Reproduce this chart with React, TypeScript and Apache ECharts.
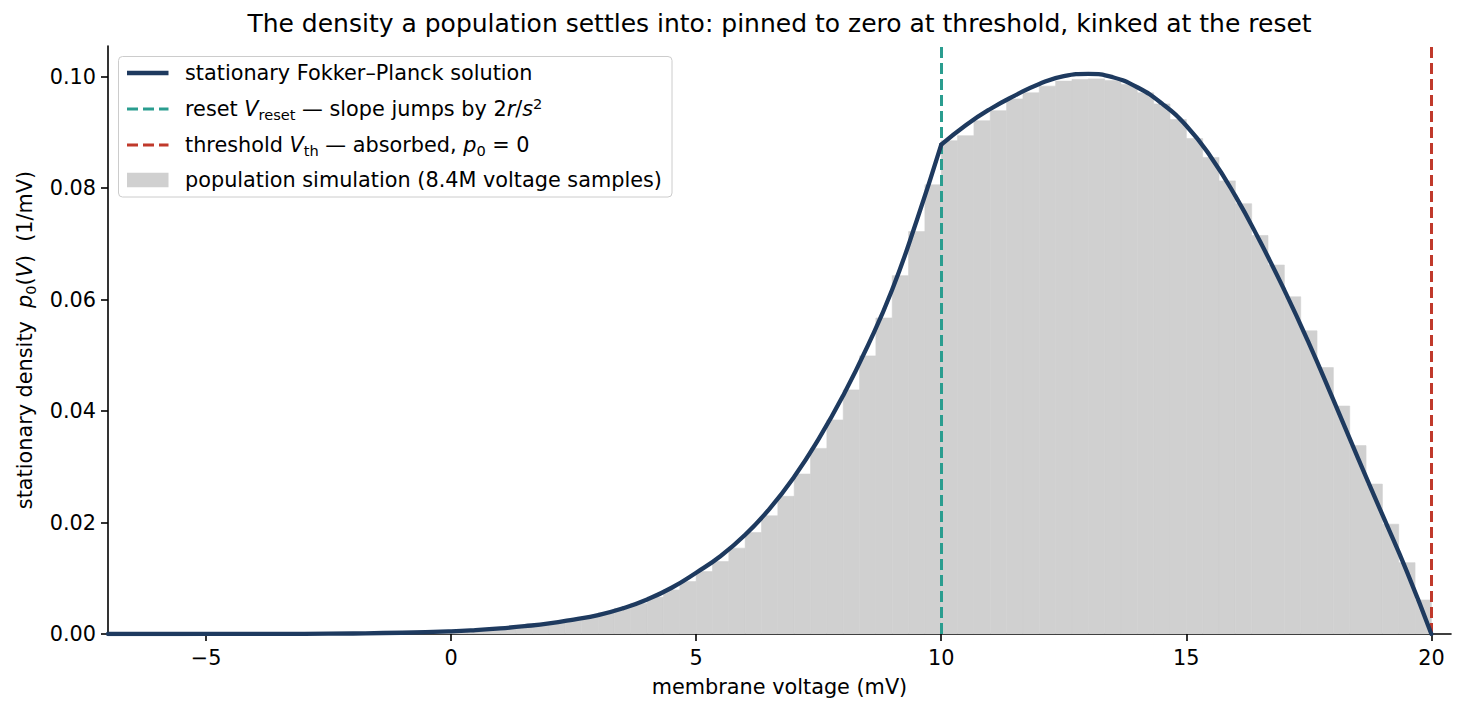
import React, { useEffect, useRef } from "react";
import * as echarts from "echarts";

// ---------- data ----------
const TITLE =
  "The density a population settles into: pinned to zero at threshold, kinked at the reset";
const X_LABEL = "membrane voltage (mV)";
const X_TICKS = [-5, 0, 5, 10, 15, 20];
const Y_TICKS = [0, 0.02, 0.04, 0.06, 0.08, 0.1];
const X_MIN = -7;
const X_MAX = 20.4;
const Y_MAX = 0.1055;
const V_RESET = 10;
const V_TH = 20;

const CURVE_NAME = "stationary Fokker–Planck solution";
const HIST_NAME = "population simulation (8.4M voltage samples)";

// analytic curve, below the reset
const CURVE_LOW_V = [-7, -6, -5, -4, -3, -2, -1, 0, 0.5, 1, 1.5, 2, 2.5, 3, 3.5, 4, 4.5, 5, 5.5, 6, 6.5, 7, 7.5, 8, 8.5, 9, 9.5, 10];
const CURVE_LOW_P = [
  0.000001, 0.000002, 0.000005, 0.000013, 0.000035, 0.00009, 0.00022, 0.00048, 0.0007, 0.001, 0.0014,
  0.0019, 0.0026, 0.0034, 0.0046, 0.0062, 0.0083, 0.011, 0.014, 0.0178, 0.0225, 0.0282, 0.035, 0.0428,
  0.0517, 0.0618, 0.0742, 0.0878,
];
// analytic curve, above the reset
const CURVE_HIGH_V = [10, 10.5, 11, 11.5, 12, 12.5, 13, 13.5, 14, 14.5, 15, 15.5, 16, 16.5, 17, 17.5, 18, 18.5, 19, 19.5, 20];
const CURVE_HIGH_P = [
  0.0878, 0.0913, 0.0942, 0.0966, 0.0987, 0.1001, 0.1005, 0.0999, 0.0981, 0.0952, 0.0912, 0.0856,
  0.0786, 0.0705, 0.0617, 0.0522, 0.042, 0.0316, 0.0214, 0.0112, 0,
];

// histogram: bins of 1/3 mV starting at -7 mV
const HIST_START = -7;
const HIST_BIN_WIDTH = 1 / 3;
const HIST_DENSITY = [
  0, 0, 0.000001, 0.000001, 0.000002, 0.000003, 0.000004, 0.000006, 0.000008, 0.000012,
  0.000017, 0.000024, 0.000034, 0.000047, 0.000065, 0.00009, 0.00012, 0.00016, 0.00021, 0.00028,
  0.00037, 0.00048, 0.00062, 0.0008, 0.001, 0.00128, 0.0016, 0.002, 0.0025, 0.0031,
  0.0038, 0.0046, 0.0055, 0.0066, 0.0079, 0.0094, 0.0112, 0.013, 0.0154, 0.0182,
  0.0212, 0.0247, 0.0287, 0.0333, 0.0384, 0.0438, 0.0499, 0.0567, 0.0643, 0.0722,
  0.0806, 0.0885, 0.0894, 0.0921, 0.0939, 0.096, 0.0971, 0.0983, 0.0992, 0.0995,
  0.0996, 0.0993, 0.0986, 0.0971, 0.0951, 0.0923, 0.0889, 0.0855, 0.0813, 0.0772,
  0.0715, 0.0662, 0.0605, 0.0544, 0.0478, 0.0409, 0.0338, 0.0269, 0.0197, 0.0128,
  0.0061,
];

// ---------- styles ----------
const FONT = "DejaVu Sans";
const FS = 20.8;
const NAVY = "#1e3a5f";
const TEAL = "#2a9d8f";
const RED = "#c0392b";
const GRAY = "#d0d0d0";

const fmtX = (v: number) => (v < 0 ? "\u2212" + Math.abs(v) : String(v));

function buildOption() {
  const histData = HIST_DENSITY.map((d, k) => {
    const x0 = HIST_START + k * HIST_BIN_WIDTH;
    return [x0, x0 + HIST_BIN_WIDTH, d];
  });
  const low = CURVE_LOW_V.map((v, i) => [v, CURVE_LOW_P[i]]);
  const high = CURVE_HIGH_V.map((v, i) => [v, CURVE_HIGH_P[i]]);

  const zr = (extra: any = {}) => ({ fontFamily: FONT, fontSize: FS, fill: "#000", lineHeight: 26, ...extra });
  const legendRich = {
    n: zr(),
    i: zr({ fontStyle: "italic" }),
    sub: zr({ fontSize: 14.6, lineHeight: 12, verticalAlign: "bottom" }),
    sup: zr({ fontSize: 14.6, lineHeight: 12, verticalAlign: "top" }),
  };
  const rows = [
    { y: 73, text: `{n|${CURVE_NAME}}` },
    { y: 109, text: "{n|reset }{i|V}{sub|reset}{n| — slope jumps by 2}{i|r}{n|/}{i|s}{sup|2}" },
    { y: 145, text: "{n|threshold }{i|V}{sub|th}{n| — absorbed, }{i|p}{sub|0}{n| = 0}" },
    { y: 180, text: `{n|${HIST_NAME}}` },
  ];
  const hx0 = 127;
  const hx1 = 168.5;
  const legendChildren: any[] = [
    {
      type: "rect",
      shape: { x: 118.5, y: 56.5, width: 553.5, height: 140.5, r: 4 },
      style: { fill: "rgba(255,255,255,0.8)", stroke: "#cccccc", lineWidth: 1 },
    },
    { type: "line", shape: { x1: hx0, y1: rows[0].y, x2: hx1, y2: rows[0].y }, style: { stroke: NAVY, lineWidth: 4.5 } },
    { type: "line", shape: { x1: hx0, y1: rows[1].y, x2: hx1, y2: rows[1].y }, style: { stroke: TEAL, lineWidth: 3, lineDash: [11, 5] } },
    { type: "line", shape: { x1: hx0, y1: rows[2].y, x2: hx1, y2: rows[2].y }, style: { stroke: RED, lineWidth: 3, lineDash: [11, 5] } },
    { type: "rect", shape: { x: hx0, y: rows[3].y - 7.3, width: hx1 - hx0, height: 14.6 }, style: { fill: GRAY } },
    ...rows.map((r) => ({
      type: "text",
      x: 185,
      y: r.y,
      style: { text: r.text, rich: legendRich, align: "left", verticalAlign: "middle", fontFamily: FONT, fontSize: FS, fill: "#000" },
    })),
  ];

  const axisRich = {
    i: { fontFamily: FONT, fontSize: FS, fontStyle: "italic", color: "#000", lineHeight: 26 },
    n: { fontFamily: FONT, fontSize: FS, color: "#000", lineHeight: 26 },
    sub: { fontFamily: FONT, fontSize: 14.6, color: "#000", lineHeight: 12, verticalAlign: "bottom" },
  };

  const curveStyle = { color: NAVY, width: 4.3, cap: "round", join: "round" };

  return {
    animation: false,
    backgroundColor: "#ffffff",
    title: {
      text: TITLE,
      left: 779.5,
      top: 11,
      padding: 0,
      textAlign: "center",
      textVerticalAlign: "top",
      textStyle: { fontFamily: FONT, fontSize: 25, fontWeight: "normal", color: "#000" },
    },
    grid: { left: 108, right: 13, top: 46, bottom: 79, containLabel: false, outerBoundsMode: "none" },
    xAxis: {
      type: "value",
      min: X_MIN,
      max: X_MAX,
      name: X_LABEL,
      nameLocation: "middle",
      nameGap: 42,
      nameTextStyle: { fontFamily: FONT, fontSize: FS, color: "#000" },
      axisLine: { show: true, onZero: false, lineStyle: { color: "#000", width: 1.6 } },
      axisTick: { show: true, inside: false, length: 7, customValues: X_TICKS, lineStyle: { color: "#000", width: 1.6 } },
      axisLabel: { customValues: X_TICKS, formatter: fmtX, margin: 13, fontFamily: FONT, fontSize: FS, color: "#000" },
      splitLine: { show: false },
    },
    yAxis: {
      type: "value",
      min: 0,
      max: Y_MAX,
      name: "stationary density  {i|p}{sub|0}{n|(}{i|V}{n|)}  (1/mV)",
      nameLocation: "middle",
      nameRotate: 90,
      nameGap: 70,
      nameTextStyle: { fontFamily: FONT, fontSize: FS, color: "#000", rich: axisRich },
      axisLine: { show: true, onZero: false, lineStyle: { color: "#000", width: 1.6 } },
      axisTick: { show: true, inside: false, length: 7, customValues: Y_TICKS, lineStyle: { color: "#000", width: 1.6 } },
      axisLabel: {
        customValues: Y_TICKS,
        formatter: (v: number) => v.toFixed(2),
        margin: 12,
        fontFamily: FONT,
        fontSize: FS,
        color: "#000",
      },
      splitLine: { show: false },
    },
    series: [
      {
        type: "custom",
        name: HIST_NAME,
        data: histData,
        encode: { x: [0, 1], y: 2 },
        clip: true,
        silent: true,
        z: 1,
        renderItem: (params: any, api: any) => {
          const a = api.coord([api.value(0), api.value(2)]);
          const b = api.coord([api.value(1), 0]);
          return {
            type: "rect",
            shape: { x: a[0], y: a[1], width: b[0] - a[0], height: b[1] - a[1] },
            style: { fill: GRAY, stroke: GRAY, lineWidth: 0.6 },
          };
        },
      },
      {
        type: "line",
        name: "reset",
        data: [],
        silent: true,
        markLine: {
          silent: true,
          z: 2,
          symbol: ["none", "none"],
          label: { show: false },
          lineStyle: { color: TEAL, width: 3, type: [11, 5] },
          data: [{ xAxis: V_RESET }],
        },
      },
      {
        type: "line",
        name: "threshold",
        data: [],
        silent: true,
        markLine: {
          silent: true,
          z: 2,
          symbol: ["none", "none"],
          label: { show: false },
          lineStyle: { color: RED, width: 3, type: [11, 5] },
          data: [{ xAxis: V_TH }],
        },
      },
      {
        type: "line",
        name: CURVE_NAME,
        data: low,
        smooth: 0.5,
        showSymbol: false,
        silent: true,
        z: 3,
        lineStyle: curveStyle,
      },
      {
        type: "line",
        name: CURVE_NAME,
        data: high,
        smooth: 0.5,
        showSymbol: false,
        silent: true,
        z: 3,
        lineStyle: curveStyle,
      },
    ],
    graphic: [{ type: "group", silent: true, z: 100, children: legendChildren }],
  };
}

export default function App() {
  const ref = useRef<HTMLDivElement>(null);
  useEffect(() => {
    if (!ref.current) return;
    const chart = echarts.init(ref.current, null, { renderer: "svg" });
    chart.setOption(buildOption() as any);
    return () => chart.dispose();
  }, []);
  return (
    <div
      ref={ref}
      style={{ position: "fixed", left: 0, top: 0, width: 1464, height: 713, background: "#fff" }}
    />
  );
}
